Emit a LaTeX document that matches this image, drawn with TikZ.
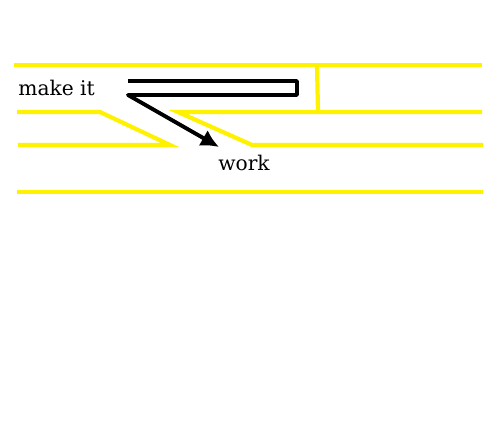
\documentclass[tikz,border=0pt]{standalone}
\usepackage{fontspec}
\setmainfont{DejaVu Serif}
\usetikzlibrary{arrows.meta, positioning}
\tikzset{> = { Latex[length = 3.6mm, width = 3.6mm] }}

\begin{document}
\begin{tikzpicture}[lane/.style = { draw = yellow, line width = 2.4pt }, pen/.style = { draw = black, line width = 2.2pt }, word/.style = { inner sep = 0pt, font = \fontsize{11.5}{14}\selectfont }]
				\useasboundingbox (0, 0) rectangle (10, 8.4);

				% yellow lanes
				\draw [lane] (0.28, 7.10) -- (9.64, 7.10);
				\draw [lane] (6.34, 7.10) -- (6.36, 6.16);
				\draw [lane] (0.34, 6.16) -- (2.00, 6.16) -- (3.40, 5.50) -- (0.36, 5.50);
				\draw [lane] (9.64, 6.16) -- (3.56, 6.16) -- (5.04, 5.50) -- (9.66, 5.50);
				\draw [lane] (0.34, 4.56) -- (9.66, 4.56);

				\node [word, anchor = west] (make) at (0.36, 6.64) {make it};
				\node [word] (work) at (4.88, 5.14) {work};

				\coordinate (start) at (2.56, 6.78);
				\coordinate (turn) at (5.94, 6.78);
				\coordinate (back) at (5.94, 6.50);
				\coordinate (bend) at (2.56, 6.50);
				\coordinate (tip) at (4.38, 5.46);

				\draw [pen, ->, line join = round] (start) -- (turn) -- (back) -- (bend) -- (tip);
			\end{tikzpicture}
\end{document}
